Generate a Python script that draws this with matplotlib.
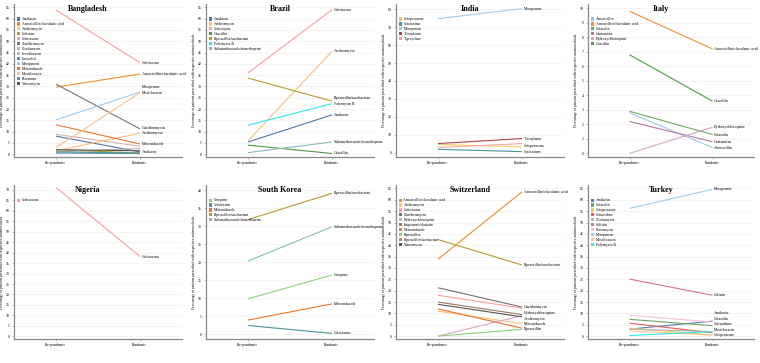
import matplotlib
matplotlib.use("Agg")
import matplotlib.pyplot as plt
from matplotlib.patches import Patch

plt.rcParams['font.family'] = ['Liberation Serif', 'DejaVu Serif']

periods = ["Pre-pandemic", "Pandemic"]
ylabel_text = "Percentage of patients prescribed with respective antimicrobials"

# ---------------- data ----------------
bd_drugs = ["Amikacin", "Amoxicillin/clavulanic acid", "Azithromycin", "Cefixime", "Ceftriaxone",
            "Clarithromycin", "Clindamycin", "Levofloxacin", "Linezolid",
            "Meropenem", "Metronidazole", "Moxifloxacin", "Rifaximin", "Vancomycin"]
bd_pre = [8.0, 29.7, 1.5, 2.0, 63.8, 31.0, 1.0, 8.8, 0.5, 15.2, 13.0, 3.0, 1.0, 2.0]
bd_pan = [1.0, 35.5, 9.3, 0.5, 40.5, 11.2, 2.5, 3.5, 0.3, 27.5, 4.5, 27.2, 0.5, 1.5]
bd_labeled = ["Ceftriaxone", "Amoxicillin/clavulanic acid", "Meropenem", "Moxifloxacin",
              "Clarithromycin", "Azithromycin", "Metronidazole", "Amikacin"]
bd_ticks = list(range(0, 70, 5))

br_drugs = ["Amikacin", "Azithromycin", "Ceftriaxone", "Oxacillin", "Piperacillin/tazobactam",
            "Polymyxin B", "Sulfamethoxazole/trimethoprim"]
br_pre = [5.4, 5.9, 36.0, 4.0, 33.7, 12.8, 0.7]
br_pan = [17.4, 45.6, 64.0, 0.3, 23.5, 22.4, 5.4]
br_labeled = br_drugs
br_ticks = list(range(0, 70, 5))

in_drugs = ["Cefoperazone", "Cefotaxime", "Meropenem", "Teicoplanin", "Tigecycline"]
in_pre = [4.6, 1.8, 74.8, 5.0, 2.8]
in_pan = [3.1, 0.5, 80.4, 7.8, 5.0]
in_labeled = ["Meropenem", "Teicoplanin", "Cefoperazone", "Cefotaxime"]
in_ticks = list(range(0, 90, 10))

it_drugs = ["Amoxicillin", "Amoxicillin/clavulanic acid", "Cefazolin", "Gentamicin",
            "Hydroxychloroquine", "Oxacillin"]
it_pre = [2.8, 9.8, 2.9, 2.2, 0.0, 6.8]
it_pan = [0.4, 7.2, 1.3, 0.8, 1.8, 3.6]
it_labeled = it_drugs
it_ticks = list(range(0, 11, 1))

ng_drugs = ["Ceftriaxone"]
ng_pre = [71.0]
ng_pan = [38.1]
ng_labeled = ng_drugs
ng_ticks = list(range(0, 75, 5))

kr_drugs = ["Cefepime", "Cefotaxime", "Metronidazole", "Piperacillin/tazobactam",
            "Sulfamethoxazole/trimethoprim"]
kr_pre = [9.9, 2.5, 4.0, 31.9, 20.4]
kr_pan = [16.5, 0.3, 8.5, 39.2, 29.9]
kr_labeled = kr_drugs
kr_ticks = list(range(0, 45, 5))

ch_drugs = ["Amoxicillin/clavulanic acid", "Azithromycin", "Ceftriaxone", "Clarithromycin",
            "Hydroxychloroquine", "Imipenem/cilastatin", "Metronidazole", "Piperacillin",
            "Piperacillin/tazobactam", "Vancomycin"]
ch_pre = [33.9, 11.0, 18.0, 21.3, 0.0, 15.0, 12.0, 0.0, 42.5, 14.0]
ch_pan = [63.5, 5.5, 12.3, 12.8, 9.0, 9.5, 3.5, 3.0, 31.3, 8.5]
ch_labeled = ["Amoxicillin/clavulanic acid", "Piperacillin/tazobactam", "Clarithromycin",
              "Hydroxychloroquine", "Azithromycin", "Metronidazole", "Piperacillin"]
ch_ticks = list(range(0, 70, 5))

tr_drugs = ["Amikacin", "Cefazolin", "Cefoperazone", "Ceftazidime", "Clindamycin", "Colistin",
            "Fosfomycin", "Meropenem", "Moxifloxacin", "Polymyxin B"]
tr_pre = [3.1, 7.4, 3.5, 5.7, 3.1, 25.1, 9.2, 56.2, 2.3, 0.3]
tr_pan = [6.6, 4.6, 0.5, 1.5, 2.0, 18.0, 6.2, 64.6, 0.5, 2.0]
tr_labeled = ["Meropenem", "Colistin", "Amikacin", "Cefazolin", "Ceftazidime",
              "Cefoperazone", "Moxifloxacin"]
tr_ticks = list(range(0, 70, 5))

# ---------------- styles ----------------
colors = {
    "Amikacin": "#4E79A7", "Amoxicillin": "#9ECAE1",
    "Amoxicillin/clavulanic acid": "#F28E2B", "Azithromycin": "#FFBE7D",
    "Cefazolin": "#6BA85F", "Cefepime": "#8CD17D", "Cefixime": "#B6992D",
    "Cefoperazone": "#F1CE63", "Cefotaxime": "#499894", "Ceftazidime": "#E15759",
    "Ceftriaxone": "#FF9D9A", "Cefuroxime": "#F7B7A3", "Clarithromycin": "#79706E",
    "Clindamycin": "#BAB0AC", "Colistin": "#D37295", "Fosfomycin": "#FABFD2",
    "Gentamicin": "#B07AA1", "Hydroxychloroquine": "#D4A6C8",
    "Imipenem/cilastatin": "#9D7660", "Levofloxacin": "#D7B5A6", "Linezolid": "#5B8DB8",
    "Meropenem": "#A0CBE8", "Metronidazole": "#E8762B", "Moxifloxacin": "#F9C48F",
    "Oxacillin": "#4E9A45", "Piperacillin": "#8CD17D",
    "Piperacillin/tazobactam": "#B6992D", "Polymyxin B": "#2EE8E8",
    "Rifaximin": "#499894", "Sulfamethoxazole/trimethoprim": "#86BCB6",
    "Teicoplanin": "#B5404A", "Tigecycline": "#F4A6A6", "Vancomycin": "#555555",
}

panels = [
    ("Bangladesh", bd_drugs, bd_pre, bd_pan, bd_labeled, bd_ticks),
    ("Brazil", br_drugs, br_pre, br_pan, br_labeled, br_ticks),
    ("India", in_drugs, in_pre, in_pan, in_labeled, in_ticks),
    ("Italy", it_drugs, it_pre, it_pan, it_labeled, it_ticks),
    ("Nigeria", ng_drugs, ng_pre, ng_pan, ng_labeled, ng_ticks),
    ("South Korea", kr_drugs, kr_pre, kr_pan, kr_labeled, kr_ticks),
    ("Switzerland", ch_drugs, ch_pre, ch_pan, ch_labeled, ch_ticks),
    ("Turkey", tr_drugs, tr_pre, tr_pan, tr_labeled, tr_ticks),
]

W, H = 760, 363
fig = plt.figure(figsize=(W / 100, H / 100), dpi=100)

lefts = [14, 206, 396, 588]
widths = [168, 168, 168, 166]
tops = [4, 185]
heights = [153, 154]


def repel(vals, gap):
    order = sorted(range(len(vals)), key=lambda i: vals[i])
    pos = [0.0] * len(vals)
    prev = None
    for i in order:
        p = vals[i]
        if prev is not None and p < prev + gap:
            p = prev + gap
        pos[i] = p
        prev = p
    return pos


for k, (title, drugs, pre, pan, labeled, ticks) in enumerate(panels):
    r, c = divmod(k, 4)
    ax = fig.add_axes([lefts[c] / W, 1 - (tops[r] + heights[r]) / H,
                       widths[c] / W, heights[r] / H])
    tmax = ticks[-1]
    step = ticks[1] - ticks[0]
    ymin = -0.25 * step
    ymax = tmax + 0.3 * step
    if title == "Nigeria":
        ymax = tmax + 0.45 * step
    for d, a, b in zip(drugs, pre, pan):
        ax.plot([0, 1], [a, b], color=colors[d], lw=0.8, solid_capstyle='butt')
    ax.set_xlim(-0.5, 1.5)
    ax.set_ylim(ymin, ymax)
    ax.set_yticks(ticks)
    ax.set_yticklabels([str(t) for t in ticks], fontsize=2.8)
    ax.set_xticks([0, 1])
    ax.set_xticklabels(periods, fontsize=2.8)
    ax.tick_params(length=1.5, width=0.4, color="#888888", pad=1.5)
    ax.grid(axis='y', color="#EDEDED", lw=0.4)
    ax.set_axisbelow(True)
    for s in ("top", "right"):
        ax.spines[s].set_visible(False)
    for s in ("left", "bottom"):
        ax.spines[s].set_color("#888888")
        ax.spines[s].set_linewidth(0.9)
    ax.set_ylabel(ylabel_text, fontsize=2.6, labelpad=1.5)
    ax.text(0.44, 0.995, title, transform=ax.transAxes, ha='center', va='top',
            fontsize=5.8, fontweight='bold')

    # end labels
    idx = [drugs.index(d) for d in labeled]
    vals = [pan[i] for i in idx]
    pos = repel(vals, 0.035 * (ymax - ymin))
    for i, p in zip(idx, pos):
        ax.text(1.02, p, drugs[i], fontsize=2.8, va='center', ha='left')

    handles = [Patch(facecolor=colors[d], edgecolor='none') for d in drugs]
    ax.legend(handles, drugs, loc='upper left', bbox_to_anchor=(0.0, 0.93),
              fontsize=2.7, frameon=False, handlelength=0.9, handleheight=0.9,
              handletextpad=0.4, labelspacing=0.25, borderaxespad=0.3)

fig.savefig("out.png", dpi=100)
